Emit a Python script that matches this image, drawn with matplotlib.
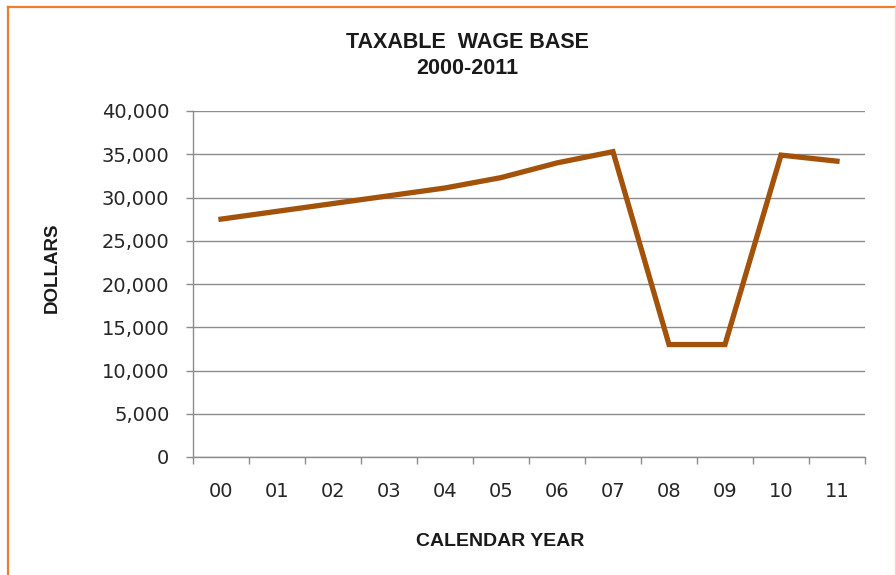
import matplotlib
matplotlib.use("Agg")
import matplotlib.pyplot as plt
from matplotlib.lines import Line2D

years = ["00", "01", "02", "03", "04", "05", "06", "07", "08", "09", "10", "11"]
wage_base = [27500, 28400, 29300, 30200, 31100, 32300, 34000, 35300, 13000, 13000, 34900, 34200]
y_ticks = [0, 5000, 10000, 15000, 20000, 25000, 30000, 35000, 40000]
y_tick_labels = ["0", "5,000", "10,000", "15,000", "20,000", "25,000", "30,000", "35,000", "40,000"]

W, H = 896, 575
fig = plt.figure(figsize=(W / 100, H / 100), dpi=100)
fig.patch.set_facecolor("white")

# border lines (orange frame)
fig.add_artist(Line2D([8 / W, 8 / W], [0, 1 - 6.5 / H], color="#ED7D31", lw=1.6, transform=fig.transFigure))
fig.add_artist(Line2D([8 / W, 1.0], [1 - 6.5 / H, 1 - 6.5 / H], color="#ED7D31", lw=1.6, transform=fig.transFigure))
fig.add_artist(Line2D([894.5 / W, 894.5 / W], [0, 1 - 6.5 / H], color="#EAD9CF", lw=1.0, transform=fig.transFigure))

ax_l, ax_r, ax_t, ax_b = 193, 865, 111, 457
ax = fig.add_axes([ax_l / W, 1 - ax_b / H, (ax_r - ax_l) / W, (ax_b - ax_t) / H])

x = list(range(len(years)))
ax.plot(x, wage_base, color="#A3520C", lw=3.8, solid_joinstyle="miter", zorder=3)

ax.set_xlim(-0.5, len(years) - 0.5)
ax.set_ylim(0, 40000)

ax.set_yticks(y_ticks)
ax.set_yticklabels(y_tick_labels)
ax.yaxis.grid(True, color="#8C8C8C", lw=1.0)
ax.set_axisbelow(True)

# x ticks at category boundaries, labels at centres
ax.set_xticks([i - 0.5 for i in range(len(years) + 1)])
ax.set_xticklabels([])
ax.set_xticks(x, minor=True)
ax.set_xticklabels(years, minor=True)
ax.tick_params(axis="x", which="major", length=5, width=1, color="#8C8C8C", direction="out")
ax.tick_params(axis="x", which="minor", length=0, pad=18, labelsize=14, labelcolor="#262626")
ax.tick_params(axis="y", which="major", length=5, width=1, color="#8C8C8C", direction="out",
               pad=12, labelsize=14, labelcolor="#262626")

for s in ["top", "right"]:
    ax.spines[s].set_visible(False)
for s in ["left", "bottom"]:
    ax.spines[s].set_color("#8C8C8C")
    ax.spines[s].set_linewidth(1.0)

fig.text(467 / W, 1 - 42 / H, "TAXABLE  WAGE BASE", ha="center", va="center",
         fontsize=15.5, fontweight="bold", family="Liberation Sans", color="#1a1a1a")
fig.text(467 / W, 1 - 68 / H, "2000-2011", ha="center", va="center",
         fontsize=15.5, fontweight="bold", family="Liberation Sans", color="#1a1a1a")
fig.text(500 / W, 1 - 541 / H, "CALENDAR YEAR", ha="center", va="center",
         fontsize=14, fontweight="bold", family="Liberation Sans", color="#1a1a1a")
fig.text(52 / W, 1 - 268 / H, "DOLLARS", ha="center", va="center", rotation=90,
         fontsize=13.5, fontweight="bold", family="Liberation Sans", color="#1a1a1a")

fig.savefig("out.png", dpi=100, facecolor="white")
